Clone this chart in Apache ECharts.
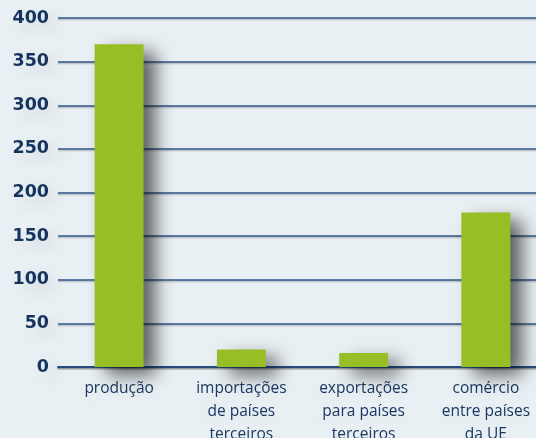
<!DOCTYPE html>
<html><head><meta charset="utf-8">
<script src="https://cdn.jsdelivr.net/npm/echarts@6/dist/echarts.min.js"></script>
<style>html,body{margin:0;padding:0;background:#e9f0f3;}#c{width:536px;height:438px;}</style>
</head><body><div id="c"></div>
<script>
const categories = ['produção', 'importações\nde países\nterceiros', 'exportações\npara países\nterceiros', 'comércio\nentre países\nda UE'];
const values = [370, 20, 16, 177];
const yTicks = [0, 50, 100, 150, 200, 250, 300, 350, 400];

const chart = echarts.init(document.getElementById('c'), null, {renderer: 'canvas'});
chart.setOption({
  backgroundColor: '#e9f0f3',
  animation: false,
  grid: {left: 58, right: -11, top: 18, bottom: 71, containLabel: false, outerBoundsMode: 'none'},
  xAxis: {
    type: 'category',
    data: categories,
    axisTick: {show: false},
    axisLine: {show: true, lineStyle: {color: '#274b7c', width: 2, shadowColor: 'rgba(0,0,0,0.25)', shadowOffsetY: 1.5, shadowBlur: 1}},
    axisLabel: {color: '#1c3763', fontFamily: 'Open Sans', fontSize: 15.5, lineHeight: 23, margin: 10.5, interval: 0,
      textShadowColor: 'rgba(0,0,0,0.12)', textShadowBlur: 18, textShadowOffsetY: 4}
  },
  yAxis: {
    type: 'value', min: yTicks[0], max: yTicks[yTicks.length - 1], interval: 50,
    axisLine: {show: false}, axisTick: {show: false},
    axisLabel: {color: '#15335f', fontFamily: 'DejaVu Sans', fontWeight: 'bold', fontSize: 17.5, margin: 9,
      textShadowColor: 'rgba(0,0,0,0.14)', textShadowBlur: 18, textShadowOffsetX: 8, textShadowOffsetY: 6},
    splitLine: {show: true, lineStyle: {color: '#2e5488', width: 1.5, shadowColor: 'rgba(0,0,0,0.2)', shadowOffsetY: 1.5, shadowBlur: 1}}
  },
  series: [{
    type: 'bar',
    data: values,
    barWidth: '40%',
    itemStyle: {color: '#97bf25', shadowColor: 'rgba(0,0,0,0.6)', shadowBlur: 18, shadowOffsetX: 12, shadowOffsetY: 8}
  }]
});
</script></body></html>
